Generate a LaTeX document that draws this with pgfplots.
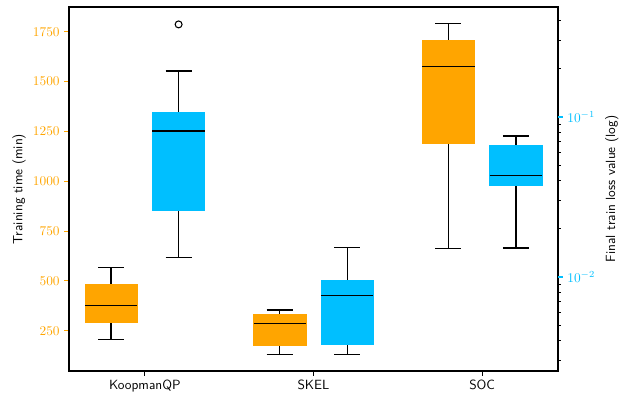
\documentclass[border=0pt]{standalone}
\usepackage{pgfplots}
\pgfplotsset{compat=1.18}
\usepgfplotslibrary{statistics}
\definecolor{mplorange}{HTML}{FFA500}
\definecolor{mplblue}{HTML}{00BFFF}
\pgfplotsset{
  orangebox/.style={solid, black, line width=1pt,
    boxplot/every box/.style={draw=mplorange, fill=mplorange, line width=0.5pt},
    boxplot/every median/.style={black, line width=1pt},
    boxplot/every whisker/.style={black, line width=1pt}},
  bluebox/.style={solid, black, line width=1pt,
    boxplot/every box/.style={draw=mplblue, fill=mplblue, line width=0.5pt},
    boxplot/every median/.style={black, line width=1pt},
    boxplot/every whisker/.style={black, line width=1pt}},
}
\begin{document}
\begin{tikzpicture}
\useasboundingbox (-51.75pt,-18pt) rectangle (416.25pt,278.25pt);
\begin{axis}[
  at={(0,0)}, anchor=south west, scale only axis,
  width=366.75pt, height=273pt,
  xmin=-0.45, xmax=2.45, ymin=48, ymax=1874.5,
  xtick={0,1,2}, xticklabels={KoopmanQP,SKEL,SOC},
  xticklabel style={font=\sffamily},
  xtick pos=bottom, ytick pos=left, tick align=outside,
  ytick={250,500,750,1000,1250,1500,1750},
  /pgf/number format/1000 sep={},
  major tick length=3.5pt,
  yticklabel style={text=mplorange},
  major y tick style={draw=mplorange, line width=0.8pt},
  major x tick style={draw=black, line width=0.8pt},
  axis line style={line width=0.8pt},
  ylabel={\sffamily Training time (min)},
  ylabel style={at={(axis description cs:-0.102,0.5)}, anchor=center},
  boxplot/draw direction=y,
]
\addplot[orangebox, boxplot prepared={draw position=-0.2,
  lower whisker=206, lower quartile=290, median=375,
  upper quartile=482, upper whisker=569,
  box extend=0.31, whisker extend=0.155}] coordinates {};
\addplot[orangebox, boxplot prepared={draw position=0.8,
  lower whisker=131, lower quartile=174.6, median=286.5,
  upper quartile=333.6, upper whisker=353.7,
  box extend=0.31, whisker extend=0.155}] coordinates {};
\addplot[orangebox, boxplot prepared={draw position=1.8,
  lower whisker=661.2, lower quartile=1188, median=1574.3,
  upper quartile=1709.7, upper whisker=1791.5,
  box extend=0.31, whisker extend=0.155}] coordinates {};
\end{axis}
\begin{axis}[
  at={(0,0)}, anchor=south west, scale only axis,
  width=366.75pt, height=273pt,
  xmin=-0.45, xmax=2.45,
  ymode=log, ymin=0.002585, ymax=0.4870,
  xtick=\empty, ytick pos=right, tick align=outside,
  axis line style={draw=none},
  major tick length=3.5pt, minor tick length=2pt,
  ytick={0.01,0.1},
  minor ytick={0.003,0.004,0.005,0.006,0.007,0.008,0.009,0.02,0.03,0.04,0.05,0.06,0.07,0.08,0.09,0.2,0.3,0.4},
  yticklabel style={text=mplblue},
  major y tick style={draw=mplblue, line width=0.8pt},
  minor y tick style={draw=black, line width=0.6pt},
  ylabel={\sffamily Final train loss value (log)},
  ylabel style={at={(axis description cs:1.110,0.5)}, anchor=center},
  boxplot/draw direction=y,
]
\addplot[bluebox, boxplot prepared={draw position=0.2,
  lower whisker=0.0132, lower quartile=0.026, median=0.0817,
  upper quartile=0.107, upper whisker=0.194,
  box extend=0.31, whisker extend=0.155}] coordinates {};
\addplot[bluebox, boxplot prepared={draw position=1.2,
  lower whisker=0.003268, lower quartile=0.003796, median=0.00764,
  upper quartile=0.00948, upper whisker=0.01535,
  box extend=0.31, whisker extend=0.155}] coordinates {};
\addplot[bluebox, boxplot prepared={draw position=2.2,
  lower whisker=0.0152, lower quartile=0.03722, median=0.04295,
  upper quartile=0.0668, upper whisker=0.0761,
  box extend=0.31, whisker extend=0.155}] coordinates {};
\addplot[only marks, mark=o, mark size=2.6pt, black, line width=0.8pt] coordinates {(0.2,0.379)};
\end{axis}
\end{tikzpicture}
\end{document}
